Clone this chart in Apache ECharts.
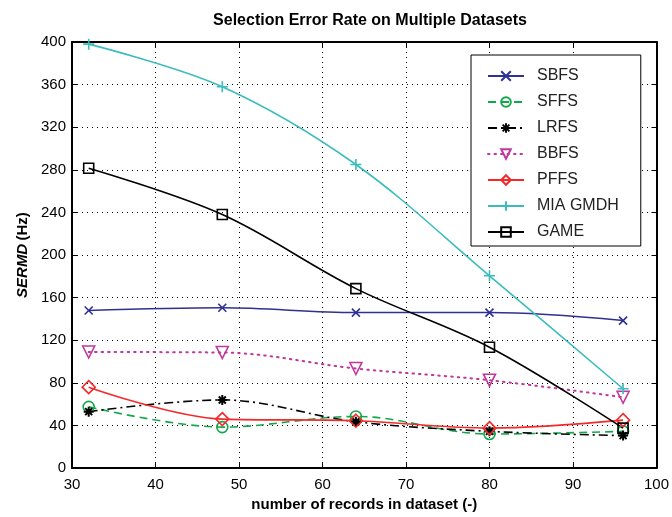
<!DOCTYPE html>
<html><head><meta charset="utf-8">
<script src="https://cdn.jsdelivr.net/npm/echarts@6/dist/echarts.min.js"></script>
<style>html,body{margin:0;padding:0;background:#fff}#c{width:672px;height:517px}</style>
</head><body><div id="c"></div>
<script>
var records = [32, 48, 64, 80, 96];
var sbfs = [148, 150.5, 146, 146, 138.5];
var sffs = [57.5, 38.5, 48.5, 32, 34.5];
var lrfs = [53, 64, 43.5, 34.5, 30.5];
var bbfs = [109, 108.5, 93.5, 82.5, 66.5];
var pffs = [76, 46, 44.5, 37.5, 45];
var mia = [398, 358, 285, 180.5, 74.5];
var game = [281.5, 238, 168.5, 113.5, 37.5];
var xTicks = [30, 40, 50, 60, 70, 80, 90, 100];
var yTicks = [0, 40, 80, 120, 160, 200, 240, 280, 320, 360, 400];

function pairs(v){ return records.map(function(x,i){ return [x, v[i]]; }); }
var F = 'Liberation Sans, Arial, Helvetica, sans-serif';
var X_PATH = 'path://M0 0L10 10M10 0L0 10';
var PLUS_PATH = 'path://M5 0L5 10M0 5L10 5';
var AST_PATH = 'path://M5 0L5 10M0 5L10 5M1.5 1.5L8.5 8.5M8.5 1.5L1.5 8.5';

function mk(name, data, color, opts){
  return Object.assign({
    name: name, type: 'line', data: pairs(data), smooth: 0.35,
    lineStyle: {color: color, width: 1.6, type: 'solid'},
    itemStyle: {color: 'none', borderColor: color, borderWidth: 1.6},
    symbolSize: 10, z: 3
  }, opts);
}

var series = [
  mk('SBFS', sbfs, '#2e3192', {symbol: X_PATH, symbolSize: 8}),
  mk('SFFS', sffs, '#12a84a', {symbol: 'circle', symbolSize: 11, lineStyle:{color:'#12a84a', width:1.6, type:[8,5]}}),
  mk('LRFS', lrfs, '#000000', {symbol: AST_PATH, symbolSize: 10, itemStyle:{color:'none', borderColor:'#000', borderWidth:2}, lineStyle:{color:'#000', width:1.6, type:[9,4,2,4]}}),
  mk('BBFS', bbfs, '#c0389e', {symbol: 'triangle', symbolRotate: 180, symbolSize: 12, lineStyle:{color:'#c0389e', width:2, type:[1.5,5], cap:'round'}}),
  mk('PFFS', pffs, '#f42a2a', {symbol: 'diamond', symbolSize: 13}),
  mk('MIA GMDH', mia, '#3cbcbc', {symbol: PLUS_PATH, symbolSize: 11}),
  mk('GAME', game, '#000000', {symbol: 'rect', symbolSize: 10})
];

var axisCommon = {
  axisLine: {show: true, onZero: false, lineStyle: {color: '#000', width: 2}},
  axisTick: {show: true, inside: true, length: 5, lineStyle: {color: '#000', width: 1}},
  axisLabel: {color: '#000', fontSize: 15, fontFamily: F}
};

var option = {
  animation: false,
  backgroundColor: '#fff',
  title: {
    text: 'Selection Error Rate on Multiple Datasets',
    left: 365, top: 8, textAlign: 'center',
    textStyle: {fontSize: 16, fontWeight: 'bold', color: '#000', fontFamily: F}
  },
  grid: {left: 72, right: 14, top: 42, bottom: 45, containLabel: false},
  legend: {
    orient: 'vertical', left: 471, top: 55,
    backgroundColor: '#fff', borderColor: '#000', borderWidth: 1,
    padding: [13, 22, 6, 16],
    itemWidth: 36, itemHeight: 12, itemGap: 10,
    textStyle: {fontSize: 16, color: '#222', fontFamily: F, padding: [0,0,0,8]},
    data: ['SBFS','SFFS','LRFS','BBFS','PFFS','MIA GMDH','GAME']
  },
  xAxis: [
    Object.assign({}, axisCommon, {
      type: 'value', min: 30, max: 100, interval: 10, position: 'bottom',
      name: 'number of records in dataset (-)', nameLocation: 'middle', nameGap: 27,
      nameTextStyle: {fontSize: 15, fontWeight: 'bold', color: '#000', fontFamily: F},
      axisLabel: {color: '#000', fontSize: 15, fontFamily: F, margin: 9,
        formatter: function(v){ return xTicks.indexOf(v) >= 0 ? String(v) : ''; }},
      splitLine: {show: true, lineStyle: {color: '#000', width: 1, type: [1, 4]}}
    }),
    Object.assign({}, axisCommon, {
      type: 'value', min: 30, max: 100, interval: 10, position: 'top',
      axisLabel: {show: false}, splitLine: {show: false}
    })
  ],
  yAxis: [
    Object.assign({}, axisCommon, {
      type: 'value', min: 0, max: 400, interval: 40, position: 'left',
      name: '{a|SERMD} {b|(Hz)}', nameLocation: 'middle', nameGap: 42, nameRotate: 90,
      nameTextStyle: {color: '#000', fontFamily: F, rich: {
        a: {fontSize: 15, fontWeight: 'bold', fontStyle: 'italic', color: '#000', fontFamily: F},
        b: {fontSize: 15, fontWeight: 'bold', color: '#000', fontFamily: F}
      }},
      axisLabel: {color: '#000', fontSize: 15, fontFamily: F, margin: 6,
        formatter: function(v){ return yTicks.indexOf(v) >= 0 ? String(v) : ''; }},
      splitLine: {show: true, lineStyle: {color: '#000', width: 1, type: [1, 4]}}
    }),
    Object.assign({}, axisCommon, {
      type: 'value', min: 0, max: 400, interval: 40, position: 'right',
      axisLabel: {show: false}, splitLine: {show: false}
    })
  ],
  series: series
};
var chart = echarts.init(document.getElementById('c'), null, {renderer: 'canvas'});
chart.setOption(option);
</script></body></html>
